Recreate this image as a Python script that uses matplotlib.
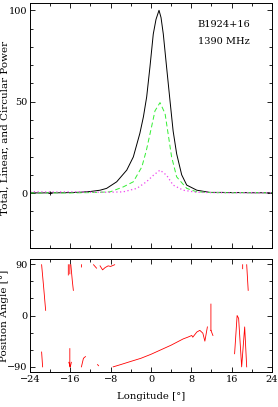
import numpy as np
import matplotlib
matplotlib.use('Agg')
import matplotlib.pyplot as plt
from matplotlib.ticker import MultipleLocator

plt.rcParams['font.family'] = ['DejaVu Serif']
plt.rcParams['font.size'] = 7

# profile (longitude in deg, power in % of peak)
lon_tot = [-24, -22, -20, -18, -16, -14, -12, -10.1, -8.8, -6.8, -4.8, -3.5, -2.2, -1.5,
           -0.85, -0.2, 0.46, 1.0, 1.6, 2.0, 2.45, 3.1, 3.8, 4.4, 5.1, 6.1, 7.1, 9.1,
           11.7, 14, 16, 18, 20, 22, 24]
total = [0.2, 0.1, 0.2, 0.2, 0.3, 0.5, 0.9, 1.6, 2.6, 6.2, 12.6, 19.8, 32.7, 41.7,
         52.6, 69, 87, 95, 100, 96, 87, 69, 50, 34, 21.5, 10, 4.4, 1.6,
         0.4, 0.4, 0.3, 0.3, 0.2, 0.2, 0.2]

lon_lin = [-24, -20, -16, -12, -8.1, -5.5, -3.5, -1.8, -0.9, 0.1, 0.8, 1.8, 2.8, 3.4,
           4.1, 5.1, 7.1, 9.1, 12, 16, 20, 24]
linear = [0.1, 0.2, 0.1, 0.3, 0.7, 3.4, 6.2, 14.4, 23.5, 36, 45, 49.5, 43.5, 32.6,
          19.8, 8.9, 2.6, 0.7, 0.3, 0.2, 0.3, 0.2]

lon_circ = [-24, -20, -16, -12, -8, -5.5, -2.8, -0.9, 0.5, 1.8, 3.1, 4.4, 6.4, 9, 12, 16, 20, 24]
circular = [0.8, 0.6, 0.7, 0.5, 0.5, 0.7, 2.6, 6.2, 9.8, 12.6, 9.8, 4.4, 1.6, 0.5, 0.3, 0.2, 0.3, 0.2]

# position angle (deg), segments split by nan
nan = np.nan
pa_lon = [-21.7, -21.3, -20.9, nan,
          -21.7, -21.5, nan,
          -16.4, -16.4, nan, -16.1, -16.1, nan,
          -15.9, -15.6, -15.4, nan,
          -16.1, -16.1, nan, -16.3, -16.0, -15.8, nan,
          -13.8, -13.8, nan,
          -13.8, -13.4, -13.0, nan,
          -11.4, -10.8, nan, -10.6, -10.4, nan,
          -10.1, -9.6, -9.1, -8.5, -8.0, -7.2, nan,
          -7.5, -6, -4.2, -2, 0, 2, 4, 6.4, 7.3, 8.1, 8.3, 9.1, 9.7, 10.3, 10.7, 11.2, nan,
          11.9, 11.9, nan, 11.9, 12.3, nan,
          16.6, 17.1, 17.4, 18.0, 18.6, 19.0, nan,
          18.2, 18.2, nan, 19.0, 19.3]
pa = [89, 50, 9, nan,
      -64, -90, nan,
      89, 71, nan, 89, 73, nan,
      89, 60, 44, nan,
      -58, -90, nan, -82, -90, -82, nan,
      89, 85, nan,
      -90, -75, -72, nan,
      89, 83, nan, -86, -88, nan,
      87, 80, 84, 87, 86, 89, nan,
      -90, -86, -81, -75, -68, -60, -52, -41, -38, -35, -38, -29, -26, -31, -45, -20, nan,
      20, -26, nan, -26, -35, nan,
      -67, 0, -5, -90, -20, -90, nan,
      89, 82, nan, 89, 44]

fig = plt.figure(figsize=(2.78, 4.07), dpi=100)
ax1 = fig.add_axes([0.108, 0.3907, 0.870, 0.602])
ax2 = fig.add_axes([0.108, 0.0860, 0.870, 0.2776])

ax1.plot(lon_tot, total, color='black', lw=0.7)
ax1.plot(lon_lin, linear, color='#33ee33', lw=0.7, dashes=(5, 3))
ax1.plot(lon_circ, circular, color='#ee44ee', lw=0.9, ls=(0, (1, 2)))
ax1.plot([-20], [0], marker='+', color='black', ms=3, mew=0.6)
ax1.set_xlim(-24, 24)
ax1.set_ylim(-30, 104)
ax1.set_ylabel('Total, Linear, and Circular Power', fontsize=7.5)
ax1.yaxis.set_label_coords(-0.086, 0.49)
ax1.text(9.3, 92, 'B1924+16', ha='left', va='center')
ax1.text(9.3, 83, '1390 MHz', ha='left', va='center')
ax1.set_xticklabels([])
ax1.yaxis.set_major_locator(MultipleLocator(50))
ax1.yaxis.set_minor_locator(MultipleLocator(10))

ax2.plot(pa_lon, pa, color='red', lw=0.6)
ax2.set_xlim(-24, 24)
ax2.set_ylim(-99, 99)
ax2.set_ylabel('Position Angle [°]', fontsize=7.5)
ax2.yaxis.set_label_coords(-0.086, 0.5)
ax2.set_xlabel('Longitude [°]', fontsize=7.3, labelpad=6)
ax2.yaxis.set_major_locator(MultipleLocator(90))
ax2.yaxis.set_minor_locator(MultipleLocator(30))

for ax in (ax1, ax2):
    ax.xaxis.set_major_locator(MultipleLocator(8))
    ax.xaxis.set_minor_locator(MultipleLocator(4))
    ax.tick_params(which='both', direction='in', top=True, right=True, width=0.6, pad=2)
    ax.tick_params(which='major', length=3.5)
    ax.tick_params(which='minor', length=2)
    for s in ax.spines.values():
        s.set_linewidth(0.7)

fig.savefig('out.png', dpi=100)
